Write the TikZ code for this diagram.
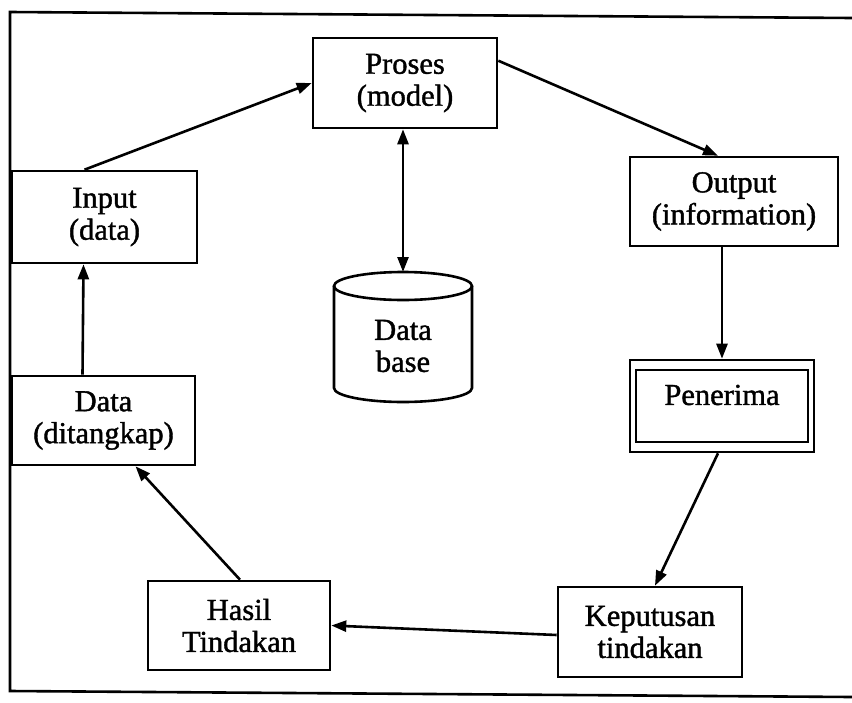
\documentclass[tikz,border=0pt]{standalone}
\usepackage{fontspec}
\setmainfont{Liberation Serif}
\newfontfamily\boxfont{Liberation Serif}[FakeBold=1.3]
\usetikzlibrary{arrows.meta}
\begin{document}
\begin{tikzpicture}[x=1pt,y=-1pt,
  line width=2.6pt,
  box/.style={draw, rectangle, align=center, font=\boxfont\fontsize{30.5}{32}\selectfont, inner sep=0pt},
  lbl/.style={align=center, font=\boxfont\fontsize{30.5}{32}\selectfont, inner sep=0pt},
  arr/.style={-{Triangle[length=15pt,width=11pt]}},
  darr/.style={{Triangle[length=15pt,width=11pt]}-{Triangle[length=15pt,width=11pt]}}]
\useasboundingbox (0,0) rectangle (852,702);

% frame
\draw (852,18) -- (10,12) -- (10,691) -- (852,697);

% boxes
\node[box, minimum width=184pt, minimum height=90pt] (proses) at (405,83) {Proses\\(model)};
\node[box, minimum width=185pt, minimum height=92pt] (input) at (104.5,217) {Input\\(data)};
\node[box, minimum width=183pt, minimum height=89pt] (data) at (103.5,420.5) {Data\\(ditangkap)};
\node[box, minimum width=208pt, minimum height=89pt] (output) at (734,201.5) {Output\\(information)};
\node[box, minimum width=184pt, minimum height=92pt] (penerima) at (722,406) {};
\node[draw, rectangle, minimum width=172pt, minimum height=72pt, inner sep=0pt] (penin) at (722,406) {};
\node[lbl] (penlbl) at (722,395) {Penerima};
\node[box, minimum width=182pt, minimum height=89pt] (hasil) at (239,625.5) {Hasil\\Tindakan};
\node[box, minimum width=184pt, minimum height=90pt] (keputusan) at (650,632) {Keputusan\\tindakan};

% database cylinder
\draw (334,286) -- (334,388) arc[start angle=180, end angle=360, x radius=69pt, y radius=14pt] -- (472,286);
\draw (403,286) ellipse[x radius=69pt, y radius=14pt];
\coordinate (dbtop) at (403,272);
\node[lbl] (db) at (403,346) {Data\\base};

% connectors
\draw[arr] ([xshift=-20pt]input.north) -- (proses.west);
\draw[arr] ([yshift=-24pt]proses.north east) -- ([xshift=-16pt]output.north);
\draw[darr] ([xshift=-2pt]proses.south) -- (dbtop);
\draw[arr] ([xshift=-12pt]output.south) -- (penerima.north);
\draw[arr] ([xshift=-4pt]penerima.south) -- ([xshift=5pt]keputusan.north);
\draw[arr] ([yshift=-3pt]keputusan.west) -- (hasil.east);
\draw[arr] ([xshift=1pt]hasil.north) -- ([xshift=32pt]data.south);
\draw[arr] ([xshift=-21pt]data.north) -- ([xshift=-21pt]input.south);
\end{tikzpicture}
\end{document}
